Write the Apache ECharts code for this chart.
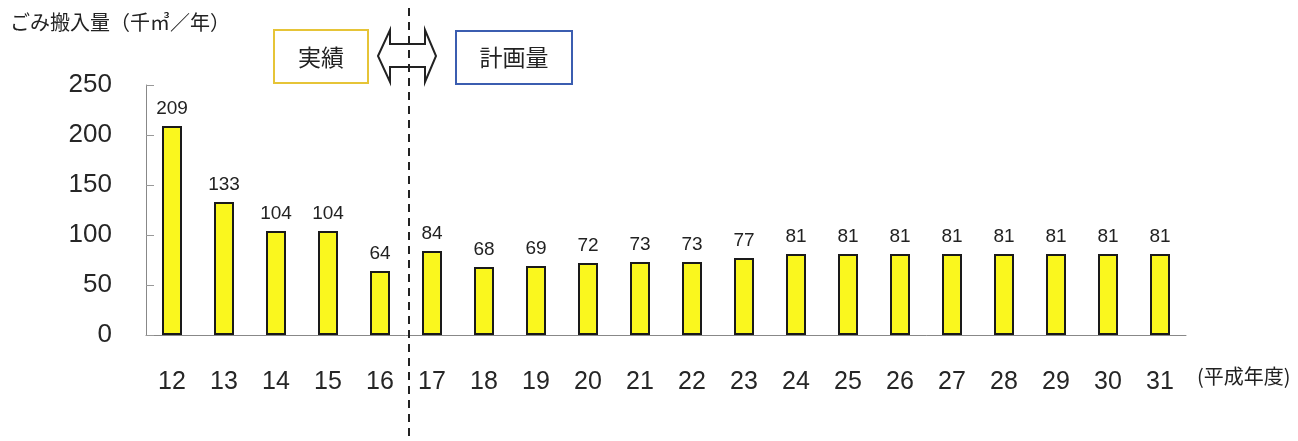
<!DOCTYPE html>
<html><head><meta charset="utf-8">
<script src="https://cdn.jsdelivr.net/npm/echarts@6/dist/echarts.min.js"></script>
<style>html,body{margin:0;padding:0;background:#fff}#c{width:1298px;height:441px}</style>
</head><body><div id="c"></div>
<script>
const categories = ['12','13','14','15','16','17','18','19','20','21','22','23','24','25','26','27','28','29','30','31'];
const wasteValues = [209,133,104,104,64,84,68,69,72,73,73,77,81,81,81,81,81,81,81,81];
const yTicks = [0,50,100,150,200,250];

const chart = echarts.init(document.getElementById('c'), null, {renderer:'canvas'});
const numFont = '"Liberation Sans", Arial, sans-serif';
const jpFont = '"Noto Sans CJK JP", sans-serif';
const option = {
  animation:false,
  backgroundColor:'#fff',
  grid:{left:146, right:112, top:85, bottom:106},
  xAxis:{
    type:'category', data:categories,
    axisLine:{lineStyle:{color:'#888', width:1}},
    axisTick:{inside:true, length:8, lineStyle:{color:'#999'}},
    axisLabel:{fontSize:25, color:'#262626', fontFamily:numFont, margin:35}
  },
  yAxis:{
    type:'value', min:yTicks[0], max:yTicks[yTicks.length-1], interval:50,
    splitLine:{show:false},
    axisLine:{show:true, lineStyle:{color:'#888', width:1}},
    axisTick:{show:true, inside:true, length:8, lineStyle:{color:'#999'}},
    axisLabel:{fontSize:26, color:'#262626', fontFamily:numFont, margin:34, padding:[6,0,0,0]}
  },
  series:[{
    type:'bar', data:wasteValues, barWidth:20,
    itemStyle:{color:'#FAF71E', borderColor:'#1a1a1a', borderWidth:2},
    label:{show:true, position:'top', distance:8, fontSize:19, color:'#222', fontFamily:numFont}
  }]
};
chart.setOption(option);

const xa = chart.convertToPixel({xAxisIndex:0}, '16');
const xb = chart.convertToPixel({xAxisIndex:0}, '17');
const divX = (xa + xb) / 2 + 3;

chart.setOption({
  graphic:[
    {type:'line', shape:{x1:divX, y1:8, x2:divX, y2:441}, style:{stroke:'#222', lineWidth:2, lineDash:[8,6]}, z:10},
    {type:'text', left:10, top:12, style:{text:'ごみ搬入量（千㎥／年）', font:'20px '+jpFont, fill:'#222'}},
    {type:'rect', shape:{x:274, y:30, width:94, height:53}, style:{fill:'#fff', stroke:'#E6C437', lineWidth:2}},
    {type:'text', x:321, y:57, style:{text:'実績', font:'23px '+jpFont, fill:'#222', align:'center', verticalAlign:'middle'}},
    {type:'rect', shape:{x:456, y:31, width:116, height:53}, style:{fill:'#fff', stroke:'#3B5DB0', lineWidth:2}},
    {type:'text', x:514, y:57, style:{text:'計画量', font:'23px '+jpFont, fill:'#222', align:'center', verticalAlign:'middle'}},
    {type:'polygon', shape:{points:[[378,56],[390,30],[390,44],[425,44],[425,30],[436,56],[425,82],[425,67],[390,67],[390,82]]},
      style:{fill:'#fff', stroke:'#222', lineWidth:2}, z:5},
    {type:'text', left:1197, top:366, style:{text:'(平成年度)', font:'20px '+jpFont, fill:'#222'}}
  ]
});
</script>
</body></html>
